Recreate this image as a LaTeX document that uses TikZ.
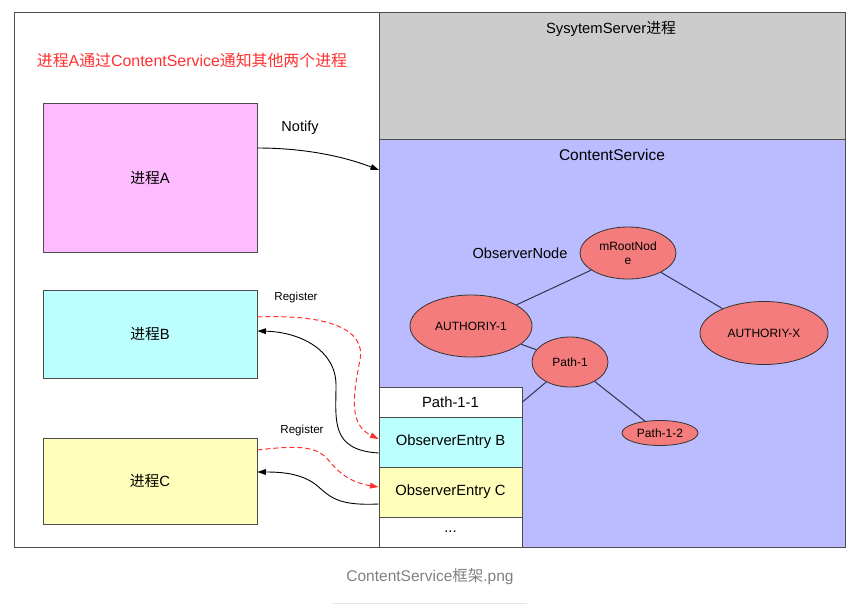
\documentclass[tikz,border=0pt]{standalone}
\usepackage{fontspec}
\setmainfont{Liberation Sans}
\newfontfamily\cjk{Noto Sans CJK SC}
\usetikzlibrary{arrows.meta,positioning,shapes.geometric,calc}
\definecolor{procA}{HTML}{FFBBFF}
\definecolor{procB}{HTML}{BBFFFF}
\definecolor{procC}{HTML}{FFFFBB}
\definecolor{sysgray}{HTML}{CCCCCC}
\definecolor{csblue}{HTML}{BBBBFF}
\definecolor{obsred}{HTML}{F47C7C}
\definecolor{treeline}{HTML}{2E3550}
\definecolor{regred}{HTML}{FF3030}
\begin{document}
\begin{tikzpicture}[x=1pt,y=-1pt,>={Triangle[length=3mm,width=2mm]},
  bx/.style={rectangle,draw=black!70,line width=0.9pt,inner sep=0pt,font=\fontsize{14.8}{17}\selectfont},
  pr/.style={bx,minimum width=214pt},
  ent/.style={bx,minimum width=143pt,minimum height=50pt},
  ob/.style={ellipse,draw=black!80,fill=obsred,line width=0.8pt,inner sep=0pt,font=\fontsize{12}{14}\selectfont},
  tl/.style={treeline,line width=1pt},
  fl/.style={->,line width=0.9pt},
  rg/.style={->,regred,dashed,dash pattern=on 5pt off 3pt,line width=1pt},
  lb/.style={font=\fontsize{11.6}{13}\selectfont}]
  \useasboundingbox (0,0) rectangle (863,611);
  % frames
  \node[bx,fill=white,minimum width=831pt,minimum height=535pt] (frame) at (429.5,279.5) {};
  \node[bx,fill=sysgray,minimum width=466pt,minimum height=127pt,anchor=north west] (ss) at (379,12) {};
  \node[bx,fill=csblue,minimum width=466pt,minimum height=408pt,anchor=north west] (cs) at (379,139) {};
  \node[font=\fontsize{14.8}{17}\selectfont] (sstitle) at (611,29) {SysytemServer{\cjk 进程}};
  \node[font=\fontsize{15.5}{17}\selectfont] (cstitle) at (612,155) {ContentService};
  \node[text=regred,font=\fontsize{15.9}{18}\selectfont] (title) at (192,60) {{\cjk 进程}A{\cjk 通过}ContentService{\cjk 通知其他两个进程}};
  % processes
  \node[pr,fill=procA,minimum height=149pt] (A) at (150,177.5) {{\cjk 进程}A};
  \node[pr,fill=procB,minimum height=88pt] (B) at (150,334) {{\cjk 进程}B};
  \node[pr,fill=procC,minimum height=86pt] (C) at (150,481) {{\cjk 进程}C};
  % observer entries
  \node[ent,fill=white,minimum height=30pt] (p11) at (450.5,402) {Path-1-1};
  \node[ent,fill=procB] (eb) at (450.5,442) {ObserverEntry B};
  \node[ent,fill=procC] (ec) at (450.5,492) {ObserverEntry C};
  \node[ent,fill=white,minimum height=30pt] (more) at (450.5,532) {...};
  % observer tree
  \node[font=\fontsize{14.6}{17}\selectfont] (obsnode) at (520,253) {ObserverNode};
  \node[ob,minimum width=96pt,minimum height=52pt,align=center] (root) at (628,253) {mRootNod\\e};
  \node[ob,minimum width=122pt,minimum height=62pt] (a1) at (471,326) {AUTHORIY-1};
  \node[ob,minimum width=128pt,minimum height=63pt] (ax) at (764,333) {AUTHORIY-X};
  \node[ob,minimum width=76pt,minimum height=50pt] (p1) at (570,362) {Path-1};
  \node[ob,minimum width=76pt,minimum height=25pt] (p12) at (660,433) {Path-1-2};
  \draw[tl] (root) -- (a1);
  \draw[tl] (root) -- (ax);
  \draw[tl] (a1) -- (p1);
  \draw[tl] (p1) -- (p11.east);
  \draw[tl] (p1) -- (p12);
  % notify and register
  \coordinate (notifyend) at ($(cs.north west)+(0,31)$);
  \draw[fl] ($(A.east)+(0,-29.5)$) .. controls (300,148) and (340,155) .. (notifyend);
  \node[font=\fontsize{14.5}{17}\selectfont] (notify) at (300,128) {Notify};
  \node[lb] (regb) at (296,297) {Register};
  \draw[rg] ($(B.east)+(0,-17)$) .. controls (330,314) and (366,330) .. (360,360)
    .. controls (352,400) and (350,425) .. ($(eb.west)+(0,-3)$);
  \draw[fl] ($(eb.west)+(0,11)$) .. controls (330,450) and (336,420) .. (336,385)
    .. controls (336,350) and (300,332) .. ($(B.east)+(0,-3)$);
  \node[lb] (regc) at (302,430) {Register};
  \draw[rg] ($(C.east)+(0,-31)$) .. controls (300,445) and (318,446) .. (330,462)
    .. controls (345,480) and (360,484) .. ($(ec.west)+(0,-5)$);
  \draw[fl] ($(ec.west)+(0,12)$) .. controls (335,506) and (330,496) .. (315,484)
    .. controls (300,473) and (280,472) .. ($(C.east)+(0,-9)$);
  % caption
  \node[text=black!50,font=\fontsize{15.5}{17}\selectfont] (caption) at (430,577) {ContentService{\cjk 框架}.png};
  \draw[black!10,line width=0.8pt] (333,603) -- (527,603);
\end{tikzpicture}
\end{document}
